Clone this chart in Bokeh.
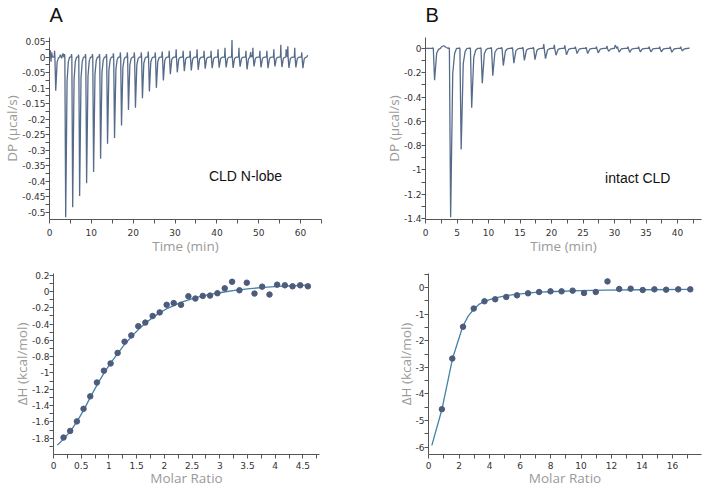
from bokeh.plotting import figure
from bokeh.layouts import column, row
from bokeh.models import FixedTicker, CustomJSTickFormatter, Label, Range1d
from bokeh.embed import file_html
from bokeh.resources import INLINE

# ---------------- Panel A: CLD N-lobe thermogram ----------------
a_inj_time = [1.27, 3.65, 5.32, 6.98, 8.65, 10.32, 11.99, 13.65, 15.32, 16.99,
              18.65, 20.32, 21.99, 23.65, 25.32, 26.99, 28.66, 30.32, 31.99, 33.66,
              35.32, 36.99, 38.66, 40.33, 41.99, 43.66, 45.33, 46.99, 48.66, 50.33,
              52.00, 53.66, 55.33, 57.00, 58.66, 60.33]
a_inj_peak = [-0.108, -0.515, -0.483, -0.447, -0.406, -0.370, -0.327, -0.279, -0.260, -0.220,
              -0.170, -0.163, -0.132, -0.111, -0.099, -0.075, -0.055, -0.049, -0.045, -0.043,
              -0.041, -0.037, -0.036, -0.034, -0.033, -0.035, -0.031, -0.040, -0.030, -0.033,
              -0.036, -0.030, -0.032, -0.035, -0.033, -0.036]
a_inj_up = [0.020, 0.010, 0.010, 0.008, 0.010, 0.010, 0.010, 0.010, 0.012, 0.015,
            0.015, 0.015, 0.015, 0.018, 0.015, 0.018, 0.020, 0.025, 0.020, 0.020,
            0.025, 0.020, 0.020, 0.025, 0.030, 0.055, 0.030, 0.020, 0.030, 0.020,
            0.020, 0.025, 0.040, 0.035, 0.030, 0.015]
a_base_time = [0.05, 0.2, 0.35, 0.5, 0.7, 2.6, 2.9, 3.2, 3.45, 48.1, 48.4, 56.55, 56.8, 61.7]
a_base_dp = [0.0, 0.022, -0.015, 0.015, 0.0, 0.008, -0.004, 0.012, 0.0, 0.016, 0.006, 0.025, 0.008, 0.006]

# ---------------- Panel B: intact CLD thermogram ----------------
b_inj_time = [1.22, 3.77, 5.44, 7.11, 8.79, 10.46, 12.13, 13.80, 15.47, 17.15,
              18.82, 20.49, 22.16, 23.83, 25.51, 27.18, 28.85, 30.52, 32.19, 33.87,
              35.54, 37.21, 38.88, 40.55]
b_inj_peak = [-0.262, -1.390, -0.832, -0.488, -0.286, -0.225, -0.141, -0.121, -0.098, -0.092,
              -0.084, -0.056, -0.052, -0.042, -0.042, -0.036, -0.024, -0.030, -0.032, -0.028,
              -0.028, -0.028, -0.031, -0.020]
b_inj_up = [0.005, 0.005, 0.005, 0.005, 0.005, 0.008, 0.008, 0.008, 0.010, 0.010,
            0.035, 0.030, 0.025, 0.015, 0.010, 0.015, 0.020, 0.015, 0.015, 0.015,
            0.015, 0.015, 0.015, 0.015]
b_base_time = [0.1, 2.5, 2.9, 3.3, 30.1, 30.3, 41.9]
b_base_dp = [0.0, 0.012, 0.022, 0.008, 0.028, 0.010, 0.005]

# ---------------- Panel A: integrated heats ----------------
a_ratio = [0.181, 0.301, 0.422, 0.542, 0.663, 0.783, 0.910, 1.030, 1.157, 1.283,
           1.404, 1.530, 1.657, 1.789, 1.916, 2.042, 2.169, 2.301, 2.434, 2.560,
           2.693, 2.825, 2.958, 3.090, 3.223, 3.355, 3.488, 3.627, 3.765, 3.898,
           4.036, 4.175, 4.313, 4.452, 4.590]
a_dh = [-1.792, -1.711, -1.594, -1.440, -1.287, -1.117, -0.972, -0.883, -0.754, -0.616,
        -0.539, -0.426, -0.382, -0.301, -0.257, -0.164, -0.143, -0.164, -0.059, -0.087,
        -0.055, -0.051, -0.022, 0.038, 0.119, 0.014, 0.107, -0.026, 0.059, -0.038,
        0.083, 0.075, 0.063, 0.075, 0.063]
a_fit_ratio = [0.07, 0.18, 0.30, 0.42, 0.55, 0.67, 0.80, 0.92, 1.05, 1.17, 1.30, 1.42,
               1.55, 1.67, 1.80, 1.92, 2.05, 2.30, 2.55, 2.80, 3.05, 3.30, 3.55, 3.80,
               4.05, 4.30, 4.60]
a_fit_dh = [-1.885, -1.81, -1.72, -1.60, -1.45, -1.29, -1.13, -0.99, -0.86, -0.75, -0.635,
            -0.545, -0.455, -0.385, -0.315, -0.26, -0.21, -0.135, -0.08, -0.04, -0.01,
            0.015, 0.035, 0.05, 0.062, 0.07, 0.077]

# ---------------- Panel B: integrated heats ----------------
b_ratio = [0.879, 1.560, 2.264, 2.967, 3.670, 4.374, 5.099, 5.802, 6.527, 7.253,
           8.000, 8.725, 9.451, 10.198, 10.967, 11.736, 12.505, 13.253, 14.044, 14.813,
           15.582, 16.374, 17.165]
b_dh = [-4.571, -2.671, -1.478, -0.795, -0.522, -0.447, -0.360, -0.298, -0.224, -0.174,
        -0.149, -0.149, -0.124, -0.211, -0.174, 0.224, -0.062, -0.050, -0.099, -0.075,
        -0.087, -0.075, -0.075]
b_fit_ratio = [0.22, 0.88, 1.58, 2.24, 2.60, 2.97, 3.30, 3.70, 4.33, 5.10, 5.87, 7.00,
               8.30, 10.0, 11.6, 14.0, 17.2]
b_fit_dh = [-5.93, -4.58, -2.66, -1.48, -1.08, -0.82, -0.64, -0.52, -0.40, -0.31, -0.25,
            -0.19, -0.155, -0.125, -0.105, -0.09, -0.075]

# ---------------- tick labels ----------------
a_top_xticks = [0, 10, 20, 30, 40, 50, 60]
a_top_xminor = [5, 15, 25, 35, 45, 55, 65]
a_top_yticks = [-0.5, -0.45, -0.4, -0.35, -0.3, -0.25, -0.2, -0.15, -0.1, -0.05, 0, 0.05]
a_top_yminor = [-0.475, -0.425, -0.375, -0.325, -0.275, -0.225, -0.175, -0.125, -0.075, -0.025, 0.025]
b_top_xticks = [0, 5, 10, 15, 20, 25, 30, 35, 40]
b_top_xminor = [2.5, 7.5, 12.5, 17.5, 22.5, 27.5, 32.5, 37.5, 42.5]
b_top_yticks = [-1.4, -1.2, -1, -0.8, -0.6, -0.4, -0.2, 0]
b_top_yminor = [-1.3, -1.1, -0.9, -0.7, -0.5, -0.3, -0.1]
a_bot_xticks = [0, 0.5, 1, 1.5, 2, 2.5, 3, 3.5, 4, 4.5]
a_bot_xminor = [0.25, 0.75, 1.25, 1.75, 2.25, 2.75, 3.25, 3.75, 4.25, 4.75]
a_bot_yticks = [-1.8, -1.6, -1.4, -1.2, -1, -0.8, -0.6, -0.4, -0.2, 0, 0.2]
a_bot_yminor = [-1.9, -1.7, -1.5, -1.3, -1.1, -0.9, -0.7, -0.5, -0.3, -0.1, 0.1]
b_bot_xticks = [0, 2, 4, 6, 8, 10, 12, 14, 16]
b_bot_xminor = [1, 3, 5, 7, 9, 11, 13, 15, 17]
b_bot_yticks = [-6, -5, -4, -3, -2, -1, 0]
b_bot_yminor = [-5.5, -4.5, -3.5, -2.5, -1.5, -0.5, 0.5]

TRACE = "#566a8a"
DOTS = "#4d5b7c"
FIT = "#4482a6"
AXIS = "#555555"
FMT = "const v = Math.round(tick*1e6)/1e6; return String(v);"


def thermogram(inj_t, inj_dp, inj_up, base_t, base_dp):
    pts = [(0.0, 0.0)] + list(zip(base_t, base_dp))
    for t, d, u in zip(inj_t, inj_dp, inj_up):
        pts += [(t - 0.15, 0.0), (t - 0.05, u), (t + 0.02, 0.0),
                (t + 0.22, d), (t + 0.55, 0.15 * d), (t + 0.85, 0.03 * d), (t + 1.15, 0.0)]
    pts.sort()
    return [p[0] for p in pts], [p[1] for p in pts]


def make_fig(w, h, xr, yr, borders, xt, xm, yt, ym, xlabel, ylabel, xstand, title=None):
    bl, br, bt, bb = borders
    p = figure(width=w, height=h, x_range=Range1d(*xr), y_range=Range1d(*yr),
               output_backend="svg", toolbar_location=None,
               min_border_left=bl, min_border_right=br, min_border_top=bt, min_border_bottom=bb)
    p.outline_line_color = None
    p.xgrid.visible = False
    p.ygrid.visible = False
    p.xaxis.ticker = FixedTicker(ticks=xt, minor_ticks=xm)
    p.yaxis.ticker = FixedTicker(ticks=yt, minor_ticks=ym)
    for ax in (p.xaxis[0], p.yaxis[0]):
        ax.formatter = CustomJSTickFormatter(code=FMT)
        ax.axis_line_color = AXIS
        ax.major_tick_line_color = AXIS
        ax.minor_tick_line_color = AXIS
        ax.major_tick_in = 0
        ax.major_tick_out = 4
        ax.minor_tick_in = 0
        ax.minor_tick_out = 4
        ax.major_label_text_font = "DejaVu Sans"
        ax.major_label_text_font_size = "9px"
        ax.major_label_text_color = "#333333"
        ax.axis_label_text_font = "Open Sans"
        ax.axis_label_text_font_size = "13.5px"
        ax.axis_label_text_font_style = "normal"
        ax.axis_label_text_color = "#9a9a9a"
    p.yaxis.major_label_standoff = 0
    p.yaxis.axis_label_standoff = -2
    p.xaxis.major_label_standoff = xstand[0]
    p.xaxis.axis_label_standoff = xstand[1]
    p.xaxis.axis_label = xlabel
    p.yaxis.axis_label = ylabel
    if title:
        p.title.text = title
        p.title.text_font = "Liberation Sans"
        p.title.text_font_size = "20px"
        p.title.text_font_style = "normal"
        p.title.text_color = "#111111"
        p.title.align = "left"
        p.title.vertical_align = "top"
        p.title.standoff = 20
        p.title.offset = 0
    return p


LIFT = 12  # the top row is lifted so that the panel letters sit high above the frames

# Top-left
tl = make_fig(352, 257 + LIFT, (0, 65), (-0.5225, 0.063), (48, 31, 37 + LIFT, 38),
              a_top_xticks, a_top_xminor, a_top_yticks, a_top_yminor,
              "Time (min)", "DP (\u00b5cal/s)", (5, -2), "A")
ax_, ay_ = thermogram(a_inj_time, a_inj_peak, a_inj_up, a_base_time, a_base_dp)
tl.line(ax_, ay_, line_color=TRACE, line_width=1.3)
tl.add_layout(Label(x=38.1, y=-0.384, text="CLD N-lobe", text_font="Liberation Sans",
                    text_font_size="14px", text_baseline="middle", text_color="#111111"))

# Top-right
tr = make_fig(350, 257 + LIFT, (0, 43.8), (-1.408, 0.09), (73, 1, 37 + LIFT, 38),
              b_top_xticks, b_top_xminor, b_top_yticks, b_top_yminor,
              "Time (min)", "DP (\u00b5cal/s)", (5, -2), "B")
bx_, by_ = thermogram(b_inj_time, b_inj_peak, b_inj_up, b_base_time, b_base_dp)
tr.line(bx_, by_, line_color=TRACE, line_width=1.3)
tr.add_layout(Label(x=28.5, y=-1.063, text="intact CLD", text_font="Liberation Sans",
                    text_font_size="14px", text_baseline="middle", text_color="#111111"))

# Bottom-left
bl = make_fig(352, 232, (0, 4.8), (-2.0, 0.22), (53, 33, 15, 35),
              a_bot_xticks, a_bot_xminor, a_bot_yticks, a_bot_yminor,
              "Molar Ratio", "\u0394H (kcal/mol)", (3, -3))
bl.line(a_fit_ratio, a_fit_dh, line_color=FIT, line_width=1.3)
bl.scatter(a_ratio, a_dh, size=5.5, color=DOTS)

# Bottom-right
br = make_fig(350, 232, (0, 17.9), (-6.27, 0.52), (76, 1, 16, 35),
              b_bot_xticks, b_bot_xminor, b_bot_yticks, b_bot_yminor,
              "Molar Ratio", "\u0394H (kcal/mol)", (3, -3))
br.line(b_fit_ratio, b_fit_dh, line_color=FIT, line_width=1.3)
br.scatter(b_ratio, b_dh, size=5.5, color=DOTS)

layout = column(row(tl, tr, margin=(-LIFT, 0, 0, 0)), row(bl, br))

open("out.html", "w").write(file_html(layout, INLINE))
